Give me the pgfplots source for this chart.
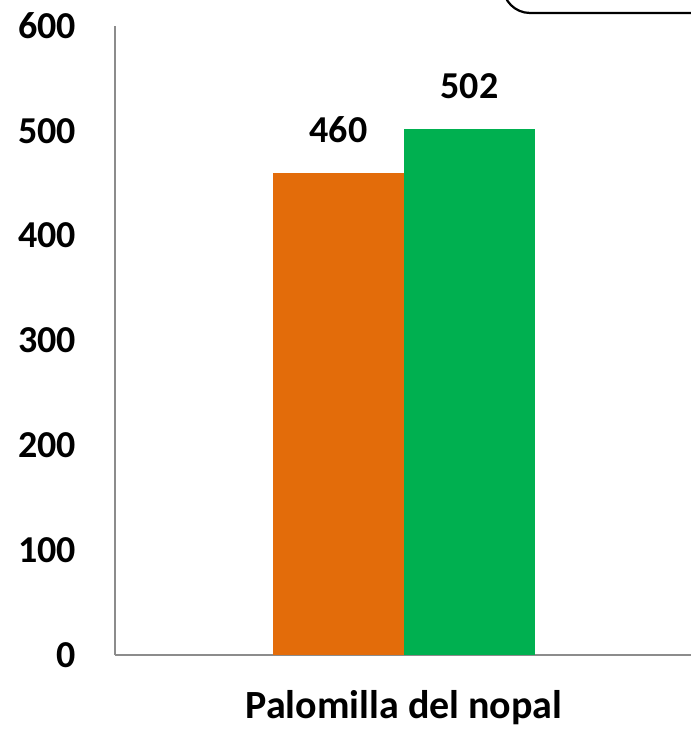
\documentclass[border=0pt]{standalone}
\usepackage{fontspec}
\setmainfont{Carlito}
\usepackage{pgfplots}
\pgfplotsset{compat=1.18}
\definecolor{barorange}{HTML}{E36C0A}
\definecolor{bargreen}{HTML}{00B050}
\definecolor{axisgray}{HTML}{8C8C8C}
\begin{document}
\begin{tikzpicture}[x=1pt,y=1pt]
% one pixel of the reference = 0.5pt
\begin{axis}[
    at={(57.5pt,38pt)}, anchor=south west,
    scale only axis,
    width=289pt, height=314.5pt,
    xmin=-2.206, xmax=2.206,
    ymin=0, ymax=600,
    ytick={0,100,...,600},
    xtick={0}, xticklabels={Palomilla del nopal},
    axis x line*=bottom, axis y line*=left,
    axis line style={axisgray, line width=1.4pt, -},
    major tick length=0pt,
    tick style={draw=none},
    /pgf/number format/assume math mode=true,
    ticklabel style={font=\fontsize{19}{22}\selectfont\bfseries},
    yticklabel style={xshift=-16pt},
    xticklabel style={yshift=-14pt, font=\fontsize{20}{23}\selectfont\bfseries},
    ybar, bar width=1, bar shift=0pt,
    nodes near coords,
    every node near coord/.append style={font=\fontsize{19}{22}\selectfont\bfseries, yshift=11.5pt},
    clip=false,
]
\addplot[draw=none, fill=barorange] coordinates {(-0.5,460)};
\addplot[draw=none, fill=bargreen] coordinates {(0.5,502)};
\end{axis}
% legend frame, cut off at the top right of the reference
\draw[black, line width=1.1pt, rounded corners=13.5pt]
    (251.5pt,420pt) -- (251.5pt,359pt) -- (400pt,359pt) -- (400pt,420pt);
\pgfresetboundingbox
\useasboundingbox (0,0) rectangle (345pt,365.5pt);
\end{tikzpicture}
\end{document}
